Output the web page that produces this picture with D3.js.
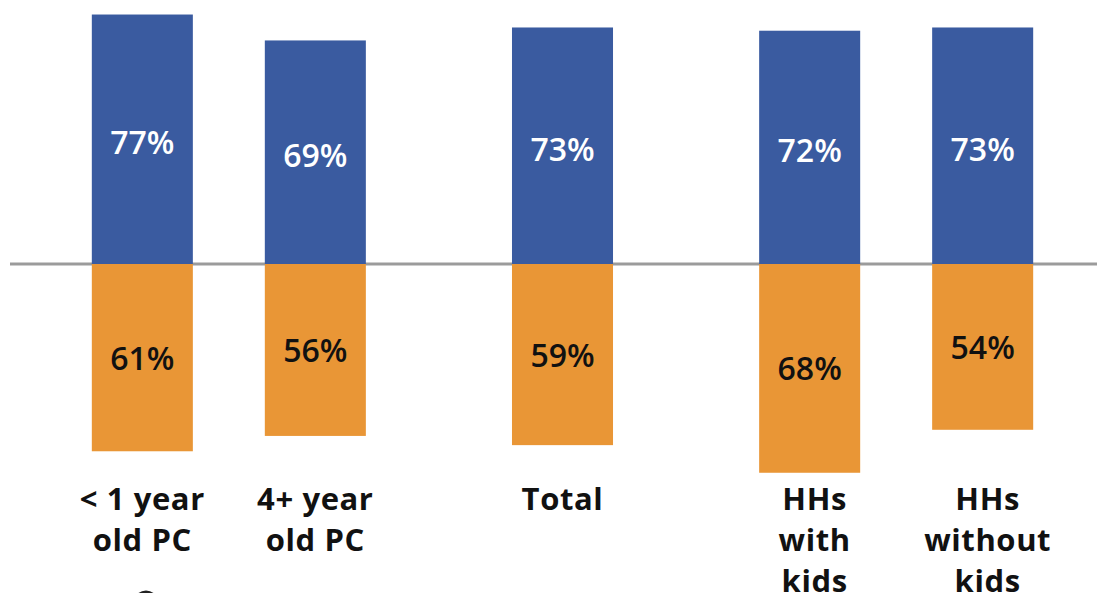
<!DOCTYPE html>
<html>
<head>
<meta charset="utf-8">
<script src="https://cdn.jsdelivr.net/npm/d3@7"></script>
<style>
  html, body { margin: 0; padding: 0; background: #fff; }
  svg { display: block; }
</style>
</head>
<body>
<div id="chart"></div>
<script>
// segments and the bars inside each
const groups = ['pc', 'total', 'kids'];
const categories = ['< 1 year|old PC', '4+ year|old PC', 'Total', 'HHs|with|kids', 'HHs|without|kids'];
const categoryGroup = ['pc', 'pc', 'total', 'kids', 'kids'];
const upperValues = [77, 69, 73, 72, 73];   // blue, above the line
const lowerValues = [61, 56, 59, 68, 54];   // orange, below the line

const width = 1097, height = 593;
const baseY = 264;

const svg = d3.select('#chart').append('svg')
  .attr('width', width)
  .attr('height', height);

// outer scale for segments
const xGroup = d3.scaleBand()
  .domain(groups)
  .range([62, 1063]);

const step = 173;
const innerScales = {};
groups.forEach(g => {
  const items = categories.filter((c, i) => categoryGroup[i] === g);
  const c = xGroup(g) + xGroup.bandwidth() / 2;
  innerScales[g] = d3.scaleBand()
    .domain(items)
    .range([c - items.length * step / 2, c + items.length * step / 2])
    .paddingInner(0.416)
    .paddingOuter(0.208);
});
const xPos = (d, i) => innerScales[categoryGroup[i]](d);
const bw = innerScales.pc.bandwidth();

const yUp = d3.scaleLinear().domain([0, 100]).range([baseY, baseY - 324]);
const yDown = d3.scaleLinear().domain([0, 100]).range([baseY, baseY + 307]);

// zero line
svg.append('line')
  .attr('x1', 10).attr('x2', width)
  .attr('y1', baseY).attr('y2', baseY)
  .attr('stroke', '#9b9b9b')
  .attr('stroke-width', 3);

const bars = svg.append('g');

bars.selectAll('.up')
  .data(categories)
  .enter().append('rect')
  .attr('x', (d, i) => xPos(d, i))
  .attr('y', (d, i) => yUp(upperValues[i]))
  .attr('width', bw)
  .attr('height', (d, i) => baseY - yUp(upperValues[i]))
  .attr('fill', '#3a5ba0');

bars.selectAll('.down')
  .data(categories)
  .enter().append('rect')
  .attr('x', (d, i) => xPos(d, i))
  .attr('y', baseY)
  .attr('width', bw)
  .attr('height', (d, i) => yDown(lowerValues[i]) - baseY)
  .attr('fill', '#e99636');

const font = "'Open Sans', 'Noto Sans', sans-serif";

// value labels
svg.selectAll('.upLabel')
  .data(categories)
  .enter().append('text')
  .attr('x', (d, i) => xPos(d, i) + bw / 2)
  .attr('y', (d, i) => (yUp(upperValues[i]) + baseY) / 2 + 15)
  .attr('text-anchor', 'middle')
  .attr('font-family', font)
  .attr('font-weight', 600)
  .attr('font-size', 32)
  .attr('fill', '#fff')
  .text((d, i) => upperValues[i] + '%');

svg.selectAll('.downLabel')
  .data(categories)
  .enter().append('text')
  .attr('x', (d, i) => xPos(d, i) + bw / 2)
  .attr('y', (d, i) => (yDown(lowerValues[i]) + baseY) / 2 + 12)
  .attr('text-anchor', 'middle')
  .attr('font-family', font)
  .attr('font-weight', 600)
  .attr('font-size', 32)
  .attr('fill', '#111')
  .text((d, i) => lowerValues[i] + '%');

// category labels, split on |
const catText = svg.selectAll('.cat')
  .data(categories)
  .enter().append('text')
  .attr('text-anchor', 'middle')
  .attr('font-family', font)
  .attr('font-weight', 700)
  .attr('font-size', 31)
  .attr('letter-spacing', 0.6)
  .attr('fill', '#111');

catText.each(function(d, i) {
  const cx = xPos(d, i) + bw / 2 + (categoryGroup[i] === 'kids' ? 5 : 0);
  d3.select(this).selectAll('tspan')
    .data(d.split('|'))
    .enter().append('tspan')
    .attr('x', cx)
    .attr('y', (t, j) => 510 + j * 41)
    .text(t => t);
});

// cut-off icon at the bottom edge
svg.append('circle')
  .attr('cx', 146).attr('cy', 603)
  .attr('r', 11)
  .attr('fill', 'none')
  .attr('stroke', '#222')
  .attr('stroke-width', 3);
</script>
</body>
</html>
